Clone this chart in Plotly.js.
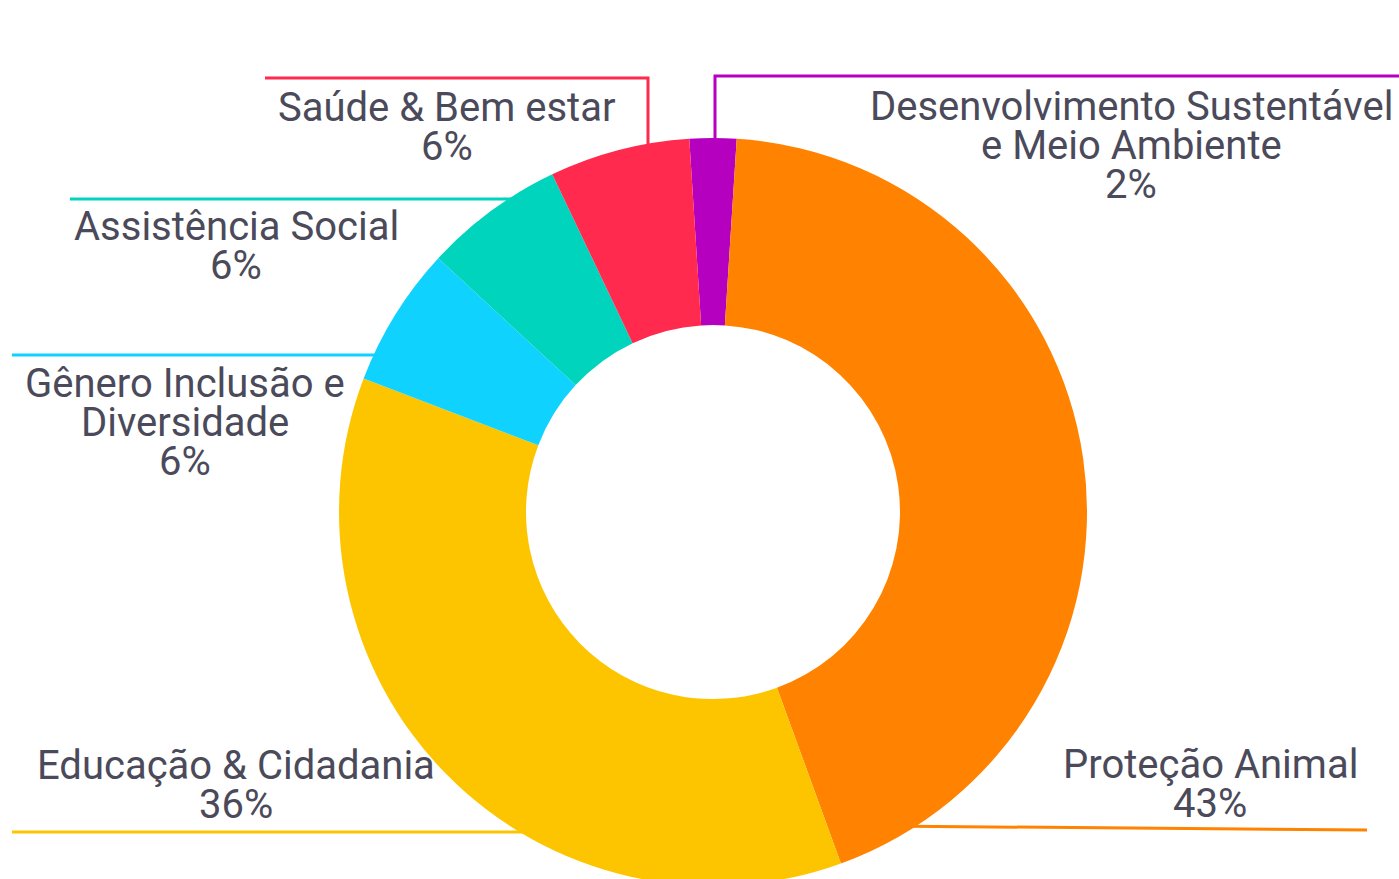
<!DOCTYPE html>
<html>
<head>
<meta charset="utf-8">
<script src="https://cdn.plot.ly/plotly-3.0.1.min.js"></script>
<style>
  html, body { margin: 0; padding: 0; overflow: hidden; background: #fff; }
  #chart { width: 1399px; height: 900px; }
</style>
</head>
<body>
<div id="chart"></div>
<script>
// ---- data ----
const categories = [
  "Desenvolvimento Sustentável e Meio Ambiente",
  "Proteção Animal",
  "Educação & Cidadania",
  "Gênero Inclusão e Diversidade",
  "Assistência Social",
  "Saúde & Bem estar"
];
const shares = [2, 43, 36, 6, 6, 6];
const labelLines = [
  ["Desenvolvimento Sustentável", "e Meio Ambiente"],
  ["Proteção Animal"],
  ["Educação & Cidadania"],
  ["Gênero Inclusão e", "Diversidade"],
  ["Assistência Social"],
  ["Saúde & Bem estar"]
];
const sliceColors = ["#B500BF", "#FF8300", "#FDC500", "#10D2FF", "#00D4BD", "#FF2A4D"];

// ---- layout config (pixels in a 1399 x 900 canvas) ----
const W = 1399, H = 900;
const px = x => x / W;
const py = y => 1 - y / H;
const center = [713, 512], radius = 374;

// label anchor: x centre, baseline of first line
const labelPos = [
  [1131, 120],
  [1210, 778],
  [236, 779],
  [185, 397],
  [236, 240],
  [447, 121]
];
const lineStep = 39;
// leader line paths (pixel points)
const leaderPaths = [
  [[1399, 76], [715, 76], [715, 175]],
  [[1367, 830], [880, 826]],
  [[12, 832], [560, 832]],
  [[12, 355], [420, 355]],
  [[70, 199], [540, 199]],
  [[265, 78], [648, 78], [648, 175]]
];

const total = shares.reduce((a, b) => a + b, 0);
const pct = shares.map(v => Math.round(v / total * 100) + "%");

const trace = {
  type: "pie",
  labels: categories,
  values: shares,
  sort: false,
  direction: "clockwise",
  rotation: -360 * shares[0] / total / 2,
  hole: 0.5,
  textinfo: "none",
  hoverinfo: "none",
  marker: { colors: sliceColors, line: { width: 0 } },
  domain: {
    x: [px(center[0] - radius), px(center[0] + radius)],
    y: [py(center[1] + radius), py(center[1] - radius)]
  },
  showlegend: false
};

const annotations = [];
const fontSize = 40;
categories.forEach((c, i) => {
  const lines = labelLines[i].concat([pct[i]]);
  lines.forEach((t, j) => {
    const baseline = labelPos[i][1] + j * lineStep;
    annotations.push({
      text: t,
      xref: "paper", yref: "paper",
      x: px(labelPos[i][0]),
      y: py(baseline - 0.34 * fontSize),
      xanchor: "center", yanchor: "middle",
      showarrow: false,
      font: { family: "Roboto, sans-serif", size: fontSize, color: "#4B4A5A" }
    });
  });
});

const shapes = [];
leaderPaths.forEach((pts, i) => {
  const d = pts.map((p, k) => (k ? "L" : "M") + px(p[0]) + "," + py(p[1])).join(" ");
  shapes.push({
    type: "path", path: d, xref: "paper", yref: "paper", layer: "below",
    line: { color: sliceColors[i], width: 3 }
  });
});

const layout = {
  width: W, height: H,
  margin: { l: 0, r: 0, t: 0, b: 0 },
  paper_bgcolor: "#ffffff",
  plot_bgcolor: "#ffffff",
  annotations: annotations,
  shapes: shapes,
  showlegend: false
};

Plotly.newPlot("chart", [trace], layout, { displayModeBar: false, staticPlot: true });
</script>
</body>
</html>
